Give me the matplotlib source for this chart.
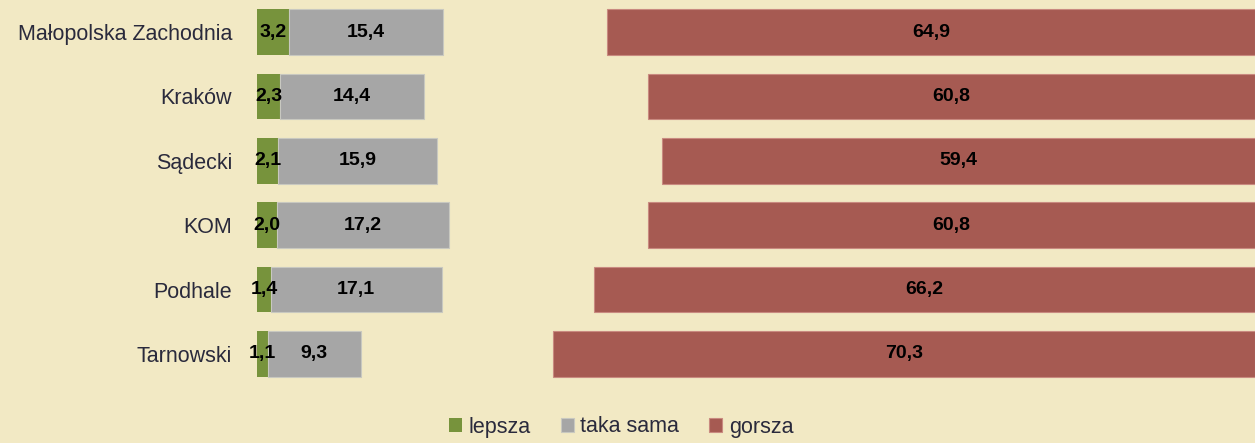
import numpy as np
import matplotlib
matplotlib.use("Agg")
import matplotlib.pyplot as plt
from matplotlib.font_manager import fontManager

names = {f.name for f in fontManager.ttflist}
fam = "Liberation Sans Narrow" if "Liberation Sans Narrow" in names else "Liberation Sans"
plt.rcParams['font.family'] = [fam, 'DejaVu Sans']

regiony = ["Małopolska Zachodnia", "Kraków", "Sądecki", "KOM", "Podhale", "Tarnowski"]
lepsza = [3.2, 2.3, 2.1, 2.0, 1.4, 1.1]
taka_sama = [15.4, 14.4, 15.9, 17.2, 17.1, 9.3]
gorsza = [64.9, 60.8, 59.4, 60.8, 66.2, 70.3]

tlo = "#F2E9C4"
c_lep = "#77933C"
c_tak = "#A6A6A6"
c_gor = "#A65A52"

fig = plt.figure(figsize=(12.55, 4.43), dpi=100, facecolor=tlo)
ax = fig.add_axes([257/1255, 1-386/443, 1-257/1255, 386/443])
ax.set_facecolor(tlo)

y = np.arange(len(regiony))
lep = np.array(lepsza)
tak = np.array(taka_sama)
gor = np.array(gorsza)
h = 0.71

ax.barh(y, lep, height=h, color=c_lep, label="lepsza")
ax.barh(y, tak, left=lep, height=h, color=c_tak, edgecolor="#C8C8C0", linewidth=0.8, label="taka sama")
ax.barh(y, gor, left=100-gor, height=h, color=c_gor, edgecolor="#C98A80", linewidth=0.8, label="gorsza")

fs = 14
for i in range(len(regiony)):
    ax.text(lep[i]/2, y[i], f"{lepsza[i]:.1f}".replace(".", ","), ha="center", va="center",
            fontsize=fs, fontweight="bold", color="black")
    ax.text(lep[i] + tak[i]/2, y[i], f"{taka_sama[i]:.1f}".replace(".", ","), ha="center", va="center",
            fontsize=fs, fontweight="bold", color="black")
    ax.text(100 - gor[i]/2, y[i], f"{gorsza[i]:.1f}".replace(".", ","), ha="center", va="center",
            fontsize=fs, fontweight="bold", color="black")

ax.set_xlim(0, 100)
ax.set_ylim(len(regiony)-0.5, -0.5)
ax.set_yticks(y)
ax.set_yticklabels(regiony, fontsize=15.5, color="#2A2A3C")
ax.tick_params(axis="y", length=0, pad=18)
ax.set_xticks([])
for s in ax.spines.values():
    s.set_visible(False)

leg = fig.legend(loc="center", bbox_to_anchor=(0.495, 1-427/443), ncol=3, frameon=False,
                 fontsize=15.5, handlelength=0.6, handleheight=0.6, handletextpad=0.3, columnspacing=1.4)
for t in leg.get_texts():
    t.set_color("#2A2A3C")

fig.savefig("out.png", dpi=100, facecolor=tlo)
